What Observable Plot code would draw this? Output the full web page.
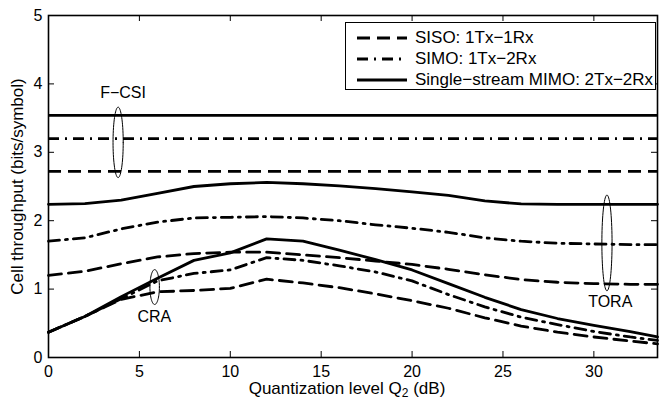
<!DOCTYPE html>
<html><head><meta charset="utf-8">
<script src="https://cdn.jsdelivr.net/npm/d3@7"></script>
<script src="https://cdn.jsdelivr.net/npm/@observablehq/plot@0.6"></script>
<style>
body{margin:0;background:#fff;}
#wrap{position:relative;width:659px;height:400px;font-family:"Liberation Sans",Arial,Helvetica,sans-serif;}
#legend{position:absolute;left:345px;top:22px;width:311px;height:68px;border:1.2px solid #000;background:#fff;box-sizing:border-box;}
.row{position:absolute;left:0;height:20px;display:flex;align-items:center;font-size:17px;color:#000;white-space:nowrap;}
.row svg{margin-left:11px;margin-right:8px;}
</style></head><body><div id="wrap"></div>
<script>
// ---- data ----
const xs = [0, 2, 4, 6, 8, 10, 12, 14, 16, 18, 20, 22, 24, 26, 28, 30, 32, 33.5];
const toraSISO = [1.20, 1.26, 1.37, 1.47, 1.52, 1.54, 1.54, 1.50, 1.46, 1.41, 1.36, 1.29, 1.21, 1.14, 1.10, 1.08, 1.07, 1.07];
const toraSIMO = [1.70, 1.75, 1.88, 1.98, 2.04, 2.05, 2.06, 2.04, 2.00, 1.94, 1.89, 1.83, 1.75, 1.70, 1.67, 1.66, 1.65, 1.65];
const toraMIMO = [2.24, 2.25, 2.30, 2.40, 2.50, 2.54, 2.56, 2.54, 2.51, 2.47, 2.42, 2.37, 2.29, 2.245, 2.24, 2.24, 2.24, 2.24];
const craSISO = [0.37, 0.60, 0.85, 0.96, 0.98, 1.01, 1.145, 1.09, 1.02, 0.93, 0.83, 0.72, 0.58, 0.46, 0.37, 0.30, 0.24, 0.20];
const craSIMO = [0.37, 0.60, 0.86, 1.12, 1.23, 1.28, 1.46, 1.42, 1.34, 1.25, 1.12, 0.92, 0.74, 0.59, 0.48, 0.38, 0.30, 0.25];
const craMIMO = [0.37, 0.60, 0.89, 1.16, 1.42, 1.53, 1.735, 1.70, 1.57, 1.43, 1.28, 1.08, 0.88, 0.70, 0.57, 0.47, 0.38, 0.30];
const fcsiSchemes = ["SISO", "SIMO", "MIMO"];
const fcsiValues = [2.72, 3.20, 3.54];

const legendLabels = ["SISO: 1Tx\u22121Rx", "SIMO: 1Tx\u22122Rx", "Single\u2212stream MIMO: 2Tx\u22122Rx"];
const xTicks = [0, 5, 10, 15, 20, 25, 30];
const yTicks = [0, 1, 2, 3, 4, 5];
const xLabelMain = "Quantization level Q", xLabelSub = "2", xLabelTail = " (dB)";
const yLabel = "Cell throughput (bits/symbol)";

const annText = ["F\u2212CSI", "CRA", "TORA"];
const annX = [4.1, 5.82, 30.9];
const annY = [3.87, 0.60, 0.82];
const ellCx = [3.83, 5.84, 30.72];
const ellCy = [3.145, 1.03, 1.675];
const ellRx = [0.28, 0.26, 0.28];
const ellRy = [0.515, 0.255, 0.70];

// ---- styles ----
const dashFor = {SISO: "13,7", SIMO: "11,6,2,6", MIMO: null};
const schemeKeys = ["SISO", "SIMO", "MIMO"];

const series = [
  ["SISO", toraSISO], ["SIMO", toraSIMO], ["MIMO", toraMIMO],
  ["SISO", craSISO], ["SIMO", craSIMO], ["MIMO", craMIMO]
];

const W = 659, H = 400, mt = 15, mb = 43, ml = 48, mr = 2;
const frameH = H - mt - mb, frameW = W - ml - mr;
const tickLen = 6;
const LW = 2.8;

const lineMarks = series.map(([s, arr]) => Plot.line(xs.map((x, i) => ({x, y: arr[i]})), {
  x: "x", y: "y", stroke: "black", strokeWidth: LW,
  strokeDasharray: dashFor[s] || undefined
}));
const fcsiMarks = fcsiSchemes.map((s, i) => Plot.ruleY([fcsiValues[i]], {
  stroke: "black", strokeWidth: LW, strokeDasharray: dashFor[s] || undefined
}));

const ellPts = [];
annText.forEach((t, k) => {
  for (let j = 0; j <= 72; j++) {
    const a = j / 72 * 2 * Math.PI;
    ellPts.push({k, x: ellCx[k] + ellRx[k] * Math.cos(a), y: ellCy[k] + ellRy[k] * Math.sin(a)});
  }
});

const svg = Plot.plot({
  width: W, height: H, marginTop: mt, marginBottom: mb, marginLeft: ml, marginRight: mr,
  style: {fontFamily: "'Liberation Sans', Arial, Helvetica, sans-serif", fontSize: "16px", background: "white", color: "black"},
  x: {domain: [0, 33.5], ticks: xTicks, tickSize: 0, tickPadding: 8, label: null, tickFormat: d => String(d)},
  y: {domain: [0, 5], ticks: yTicks, tickSize: 0, tickPadding: 6, label: null, tickFormat: d => String(d)},
  marks: [
    ...fcsiMarks,
    ...lineMarks,
    Plot.line(ellPts, {x: "x", y: "y", z: "k", stroke: "black", strokeWidth: 1}),
    Plot.text(annText, {x: (d, i) => annX[i], y: (d, i) => annY[i], text: d => d, fontSize: 16, fill: "black"}),
    Plot.ruleX(xTicks, {insetTop: frameH - tickLen, stroke: "black", strokeWidth: 1}),
    Plot.ruleX(xTicks, {insetBottom: frameH - tickLen, stroke: "black", strokeWidth: 1}),
    Plot.ruleY(yTicks, {insetRight: frameW - tickLen, stroke: "black", strokeWidth: 1}),
    Plot.ruleY(yTicks, {insetLeft: frameW - tickLen, stroke: "black", strokeWidth: 1}),
    Plot.frame({stroke: "black", strokeWidth: 1.6}),
    Plot.text([xLabelMain + xLabelSub + xLabelTail], {frameAnchor: "bottom", text: d => d, dy: 36, dx: -6, lineAnchor: "bottom", textAnchor: "middle", fontSize: 17, fill: "black"}),
    Plot.text([yLabel], {frameAnchor: "left", text: d => d, dx: -31, rotate: -90, textAnchor: "middle", fontSize: 17, fill: "black"})
  ]
});

const wrap = document.getElementById("wrap");
wrap.appendChild(svg);

// subscript in x label
svg.querySelectorAll("text").forEach(t => {
  if (t.textContent === xLabelMain + xLabelSub + xLabelTail) {
    t.textContent = "";
    const ns = "http://www.w3.org/2000/svg";
    const a = document.createElementNS(ns, "tspan"); a.textContent = xLabelMain;
    const b = document.createElementNS(ns, "tspan"); b.textContent = xLabelSub;
    b.setAttribute("dy", "3"); b.setAttribute("font-size", "12");
    const c = document.createElementNS(ns, "tspan"); c.textContent = xLabelTail;
    c.setAttribute("dy", "-3");
    t.appendChild(a); t.appendChild(b); t.appendChild(c);
  }
});

// legend box (inside plot, top-right)
const legend = document.createElement("div");
legend.id = "legend";
const rowTops = [4.5, 25.5, 47];
legendLabels.forEach((lab, i) => {
  const row = document.createElement("div");
  row.className = "row";
  row.style.top = rowTops[i] + "px";
  const dash = dashFor[schemeKeys[i]];
  row.innerHTML = `<svg width="50" height="10"><line x1="0" x2="50" y1="5" y2="5" stroke="black" stroke-width="${LW}" ${dash ? `stroke-dasharray="${dash}"` : ""}/></svg>`;
  const span = document.createElement("span");
  span.textContent = lab;
  row.appendChild(span);
  legend.appendChild(row);
});
wrap.appendChild(legend);
</script>
</body></html>
